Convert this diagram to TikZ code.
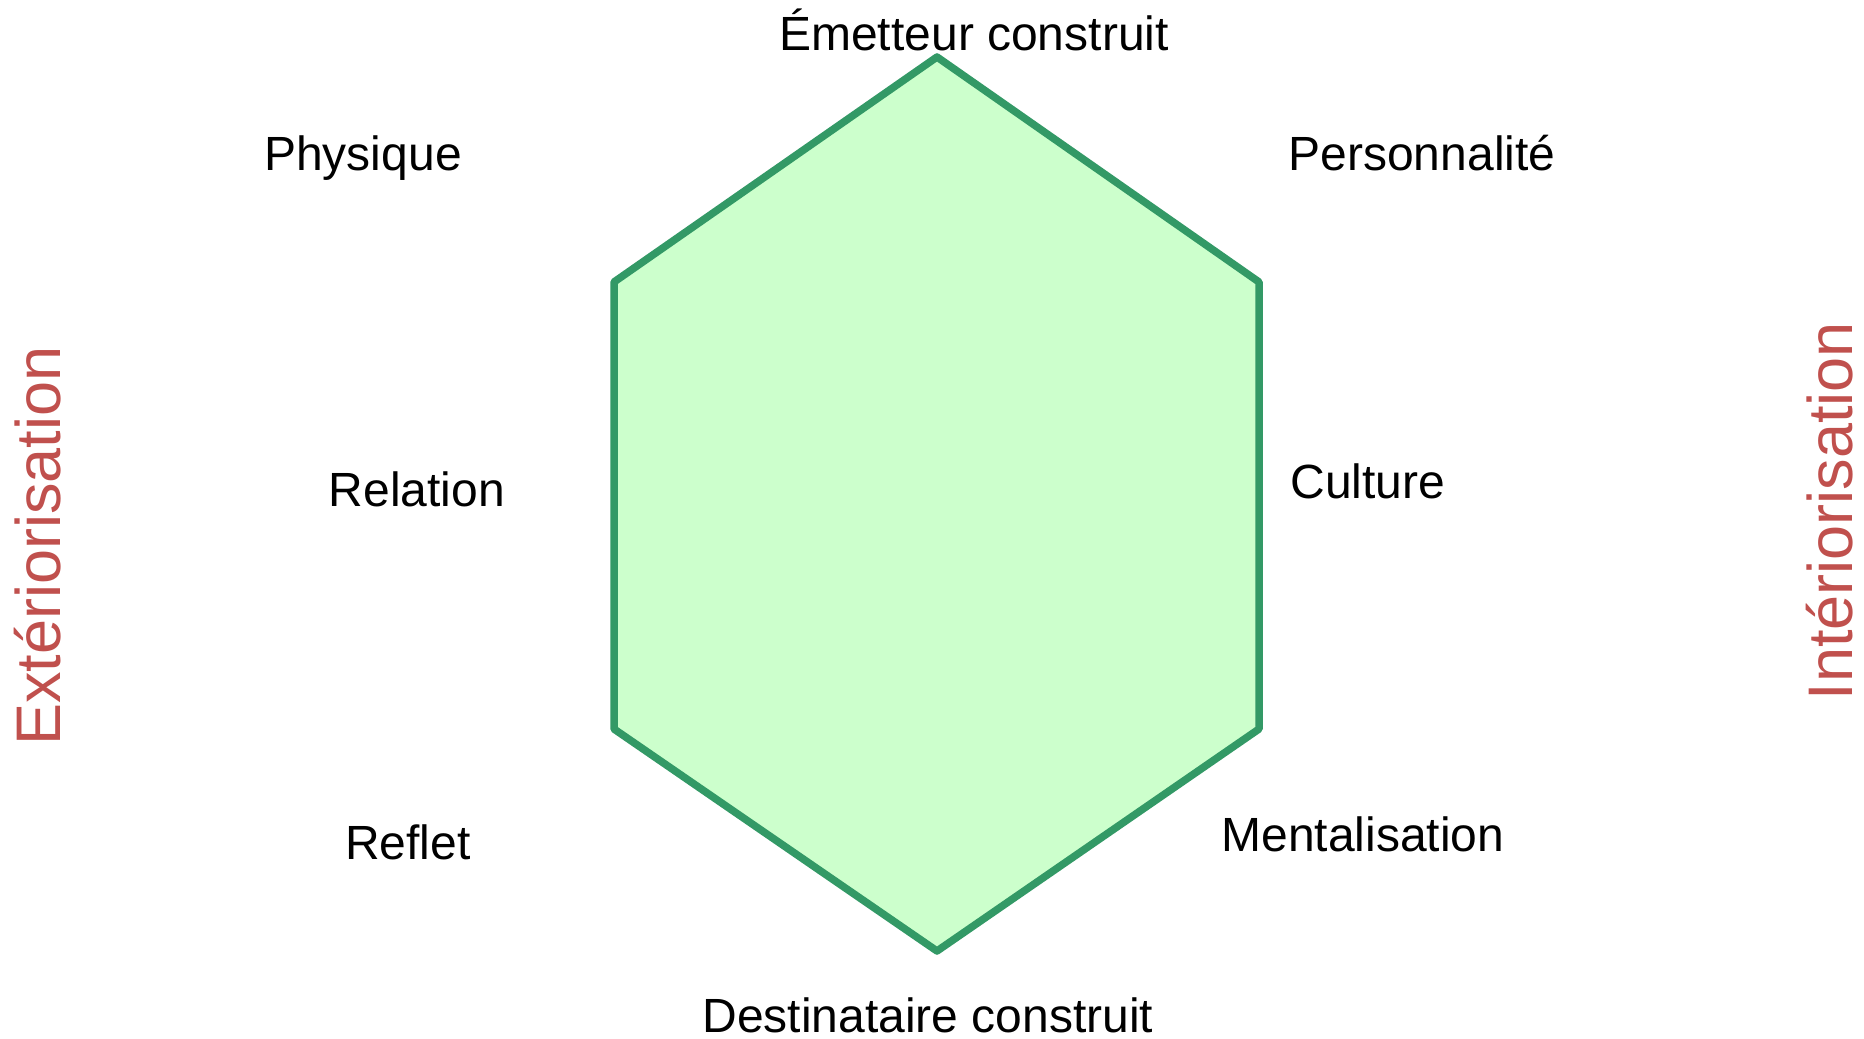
\documentclass[tikz,border=0pt]{standalone}
\usepackage{fontspec}
\setmainfont{Liberation Sans}
\usetikzlibrary{positioning}

\definecolor{hexline}{HTML}{339966}
\definecolor{hexfill}{HTML}{CCFFCC}
\definecolor{axered}{HTML}{C0504D}

\begin{document}
\begin{tikzpicture}[x=1pt,y=-1pt,
  lbl/.style={anchor=base,inner sep=0pt,font=\fontsize{48}{58}\selectfont},
  axe/.style={anchor=base,inner sep=0pt,rotate=90,text=axered,font=\fontsize{63}{76}\selectfont}]
\useasboundingbox (0,0) rectangle (1864,1039);
%\draw [help lines,step=100] (0,0) grid (1864,1039);
\draw [hexline,fill=hexfill,line width=7.5pt,line join=round]
  (937,57) -- (1259,282) -- (1259,729) -- (937,951) -- (614,729) -- (614,282) -- cycle;
% sommets
\node[lbl] (emetteur) at (974,50) {Émetteur construit};
\node[lbl] (destinataire) at (928,1032) {Destinataire construit};
% cote gauche
\node[lbl] (physique) at (363,170) {Physique};
\node[lbl] (relation) at (417,506) {Relation};
\node[lbl] (reflet) at (408,859) {Reflet};
% cote droit
\node[lbl] (personnalite) at (1422,170) {Personnalité};
\node[lbl] (culture) at (1368,498) {Culture};
\node[lbl] (mentalisation) at (1363,851) {Mentalisation};
% axes
\node[axe] (exterio) at (60,546) {Extériorisation};
\node[axe] (interio) at (1852,511) {Intériorisation};
\end{tikzpicture}
\end{document}
